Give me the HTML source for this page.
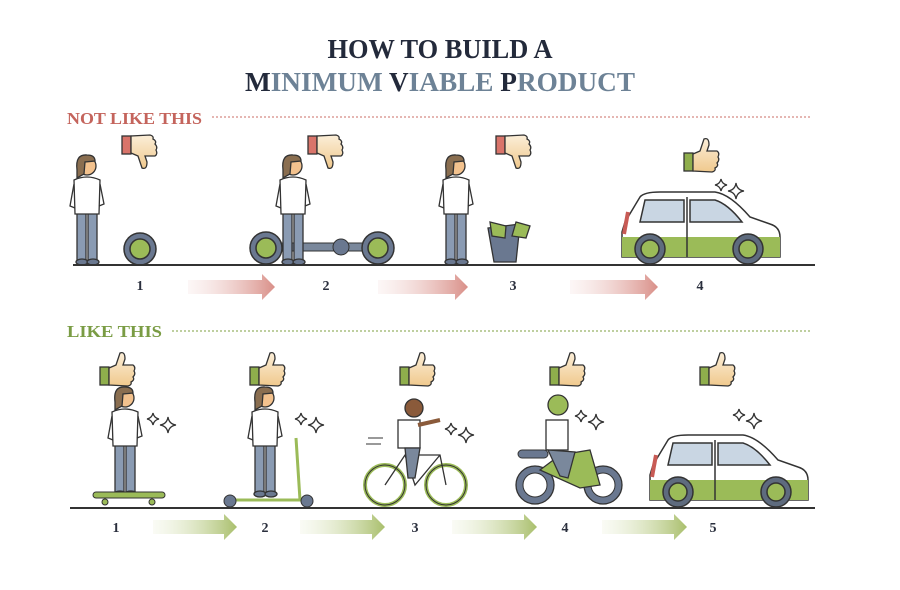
<!DOCTYPE html>
<html><head><meta charset="utf-8"><style>
html,body{margin:0;padding:0;background:#fff;}
svg{display:block}
.t{font-family:"Liberation Serif",serif;font-weight:bold;}
.n{font-family:"Liberation Serif",serif;font-weight:bold;font-size:14px;fill:#2a2f3d;text-anchor:middle}
</style></head><body>
<svg width="900" height="590" viewBox="0 0 900 590" xmlns="http://www.w3.org/2000/svg">
<defs>
<linearGradient id="gr" x1="0" x2="1"><stop offset="0" stop-color="#f6e4e2" stop-opacity="0.3"/><stop offset="1" stop-color="#d98f88"/></linearGradient>
<linearGradient id="gg" x1="0" x2="1"><stop offset="0" stop-color="#eef2de" stop-opacity="0.3"/><stop offset="1" stop-color="#a9bf6c"/></linearGradient>
<linearGradient id="skin" x1="0" x2="0" y1="0" y2="1"><stop offset="0" stop-color="#fbeed8"/><stop offset="1" stop-color="#f0c98d"/></linearGradient>
<g id="up">
<rect x="0" y="16" width="9" height="18" fill="#8fae4c" stroke="#333" stroke-width="1.3"/>
<path d="M9 17 L16 14 L20 2 Q25 0 25 8 L23 14 L33 14 Q36 16 34 20 Q36 23 33 26 Q35 29 31 31 Q32 34 28 35 L9 34 Z" fill="url(#skin)" stroke="#333" stroke-width="1.3"/>
</g>
<g id="down">
<rect x="0" y="0" width="9" height="18" fill="#d9746a" stroke="#333" stroke-width="1.3"/>
<path d="M9 17 L16 20 L20 32 Q25 34 25 26 L23 20 L33 20 Q36 18 34 14 Q36 11 33 8 Q35 5 31 3 Q32 0 28 -1 L9 0 Z" fill="url(#skin)" stroke="#333" stroke-width="1.3"/>
</g>
<g id="sp" fill="none" stroke="#333" stroke-width="1.3">
<path d="M6 0 Q7 5 12 6 Q7 7 6 12 Q5 7 0 6 Q5 5 6 0Z"/>
<path d="M21 4 Q22 11 29 12 Q22 13 21 20 Q20 13 13 12 Q20 11 21 4Z"/>
</g>
<g id="person" stroke="#333" stroke-width="1.3">
<rect x="-10" y="55" width="9" height="48" fill="#8a9bb3"/>
<rect x="1" y="55" width="9" height="48" fill="#8a9bb3"/>
<ellipse cx="-5" cy="104" rx="6" ry="3" fill="#6a7890"/>
<ellipse cx="6" cy="104" rx="6" ry="3" fill="#6a7890"/>
<path d="M-13 22 Q0 16 13 22 L12 56 L-12 56 Z" fill="#fff"/>
<path d="M-13 26 L-17 48 L-12 50" fill="none" stroke="#333"/>
<path d="M13 26 L17 46 L12 48" fill="none"/>
<circle cx="0" cy="8" r="9" fill="#f3c28e"/>
<path d="M-10 12 Q-12 -4 0 -3 Q8 -3 8 3 L-2 4 L-3 16 L-10 20Z" fill="#8a6e50"/>
</g>
<g id="car" stroke="#333" stroke-width="1.5">
<path d="M5 30 L20 5 Q24 0 40 0 L95 0 Q110 2 130 25 L150 32 Q160 35 160 45 L160 65 L2 65 L2 40 Z" fill="#fff"/>
<path d="M2 45 L160 45 L160 65 L2 65Z" fill="#9bbb58" stroke="none"/>
<path d="M25 8 L64 8 L64 30 L20 30 Z" fill="#c9d6e3"/>
<path d="M70 8 L95 8 Q108 12 122 30 L70 30Z" fill="#c9d6e3"/>
<path d="M67 5 L67 65" fill="none"/>
<path d="M8 20 L4 42" stroke="#c85b55" stroke-width="4"/>
<circle cx="30" cy="57" r="15" fill="#5e6b7e"/><circle cx="30" cy="57" r="9" fill="#9bbb58"/>
<circle cx="128" cy="57" r="15" fill="#5e6b7e"/><circle cx="128" cy="57" r="9" fill="#9bbb58"/>
</g>
<g id="wheel" stroke="#333" stroke-width="1.5"><circle r="16" fill="#6a7890"/><circle r="10" fill="#9bbb58"/></g>
</defs>

<text x="440" y="58" class="t" text-anchor="middle" font-size="27" fill="#232a3b" textLength="225" lengthAdjust="spacingAndGlyphs">HOW TO BUILD A</text>
<text x="440" y="91" class="t" text-anchor="middle" font-size="27" textLength="390" lengthAdjust="spacingAndGlyphs"><tspan fill="#232a3b">M</tspan><tspan fill="#6d8296">INIMUM </tspan><tspan fill="#232a3b">V</tspan><tspan fill="#6d8296">IABLE </tspan><tspan fill="#232a3b">P</tspan><tspan fill="#6d8296">RODUCT</tspan></text>

<text x="67" y="124" class="t" font-size="17" fill="#c4645c" textLength="135" lengthAdjust="spacingAndGlyphs">NOT LIKE THIS</text>
<line x1="212" y1="117" x2="812" y2="117" stroke="#d58a84" stroke-width="1.2" stroke-dasharray="2,2"/>
<text x="67" y="337" class="t" font-size="17" fill="#7a9c44" textLength="95" lengthAdjust="spacingAndGlyphs">LIKE THIS</text>
<line x1="172" y1="331" x2="812" y2="331" stroke="#98b266" stroke-width="1.2" stroke-dasharray="2,2"/>

<use href="#down" x="122" y="136"/><use href="#down" x="308" y="136"/><use href="#down" x="496" y="136"/>
<use href="#up" x="684" y="137"/>
<use href="#person" x="87" y="158"/>
<use href="#wheel" x="140" y="249"/>
<rect x="262" y="243" width="120" height="8" fill="#7a889c" stroke="#333"/>
<circle cx="341" cy="247" r="8" fill="#6a7890" stroke="#333"/>
<use href="#wheel" x="266" y="248"/><use href="#wheel" x="378" y="248"/>
<use href="#person" x="293" y="158"/>
<use href="#person" x="456" y="158"/>
<path d="M488 228 L520 224 L516 262 L494 262Z" fill="#6a7890" stroke="#333" stroke-width="1.3"/>
<path d="M490 222 L506 226 L505 238 L492 236Z M516 222 L530 226 L526 238 L512 236Z" fill="#9bbb58" stroke="#333" stroke-width="1.3"/>
<use href="#sp" x="715" y="179"/>
<use href="#car" x="620" y="192"/>
<line x1="73" y1="265" x2="815" y2="265" stroke="#333" stroke-width="2"/>
<text x="140" y="290" class="n">1</text><text x="326" y="290" class="n">2</text><text x="513" y="290" class="n">3</text><text x="700" y="290" class="n">4</text>
<path d="M188 280 L262 280 L262 274 L275 287 L262 300 L262 294 L188 294Z" fill="url(#gr)"/>
<path d="M378 280 L455 280 L455 274 L468 287 L455 300 L455 294 L378 294Z" fill="url(#gr)"/>
<path d="M570 280 L645 280 L645 274 L658 287 L645 300 L645 294 L570 294Z" fill="url(#gr)"/>

<use href="#up" x="100" y="351"/><use href="#up" x="250" y="351"/><use href="#up" x="400" y="351"/><use href="#up" x="550" y="351"/><use href="#up" x="700" y="351"/>
<use href="#sp" x="147" y="413"/><use href="#sp" x="295" y="413"/><use href="#sp" x="445" y="423"/><use href="#sp" x="575" y="410"/><use href="#sp" x="733" y="409"/>
<use href="#person" x="125" y="390"/>
<rect x="93" y="492" width="72" height="6" rx="3" fill="#9bbb58" stroke="#333"/>
<circle cx="105" cy="502" r="3" fill="#9bbb58" stroke="#333"/><circle cx="152" cy="502" r="3" fill="#9bbb58" stroke="#333"/>
<use href="#person" x="265" y="390"/>
<path d="M296 438 L300 500 L228 500" fill="none" stroke="#9bbb58" stroke-width="3"/>
<circle cx="230" cy="501" r="6" fill="#6a7890" stroke="#333"/><circle cx="307" cy="501" r="6" fill="#6a7890" stroke="#333"/>
<circle cx="385" cy="485" r="20" fill="none" stroke="#9bbb58" stroke-width="4"/><circle cx="385" cy="485" r="20" fill="none" stroke="#333" stroke-width="1"/>
<circle cx="446" cy="485" r="20" fill="none" stroke="#9bbb58" stroke-width="4"/><circle cx="446" cy="485" r="20" fill="none" stroke="#333" stroke-width="1"/>
<path d="M385 485 L405 455 L440 455 L446 485 M405 455 L415 485 L440 455" fill="none" stroke="#333" stroke-width="1.3"/>
<path d="M368 438 h15 M366 444 h15" stroke="#333"/>
<rect x="398" y="420" width="22" height="28" fill="#fff" stroke="#333" stroke-width="1.3"/>
<path d="M405 448 L420 448 L415 478 L408 478Z" fill="#7a889c" stroke="#333" stroke-width="1.3"/>
<circle cx="414" cy="408" r="9" fill="#8a5a3a" stroke="#333" stroke-width="1.3"/>
<path d="M418 425 L440 420" stroke="#8a5a3a" stroke-width="4"/>
<circle cx="535" cy="485" r="19" fill="#6a7890" stroke="#333" stroke-width="1.3"/><circle cx="535" cy="485" r="12" fill="#fff" stroke="#333"/>
<circle cx="603" cy="485" r="19" fill="#6a7890" stroke="#333" stroke-width="1.3"/><circle cx="603" cy="485" r="12" fill="#fff" stroke="#333"/>
<path d="M540 470 L560 455 L590 450 L600 485 L580 488 Z" fill="#9bbb58" stroke="#333" stroke-width="1.3"/>
<rect x="518" y="450" width="30" height="8" rx="4" fill="#6a7890" stroke="#333"/>
<rect x="546" y="420" width="22" height="30" fill="#fff" stroke="#333" stroke-width="1.3"/>
<path d="M548 450 L575 452 L568 478 L560 476Z" fill="#7a889c" stroke="#333" stroke-width="1.3"/>
<circle cx="558" cy="405" r="10" fill="#9bbb58" stroke="#333" stroke-width="1.3"/>
<use href="#car" x="648" y="435"/>
<line x1="70" y1="508" x2="815" y2="508" stroke="#333" stroke-width="2"/>
<text x="116" y="532" class="n">1</text><text x="265" y="532" class="n">2</text><text x="415" y="532" class="n">3</text><text x="565" y="532" class="n">4</text><text x="713" y="532" class="n">5</text>
<path d="M153 520 L224 520 L224 514 L237 527 L224 540 L224 534 L153 534Z" fill="url(#gg)"/>
<path d="M300 520 L372 520 L372 514 L385 527 L372 540 L372 534 L300 534Z" fill="url(#gg)"/>
<path d="M452 520 L524 520 L524 514 L537 527 L524 540 L524 534 L452 534Z" fill="url(#gg)"/>
<path d="M602 520 L674 520 L674 514 L687 527 L674 540 L674 534 L602 534Z" fill="url(#gg)"/>
</svg>
</body></html>
